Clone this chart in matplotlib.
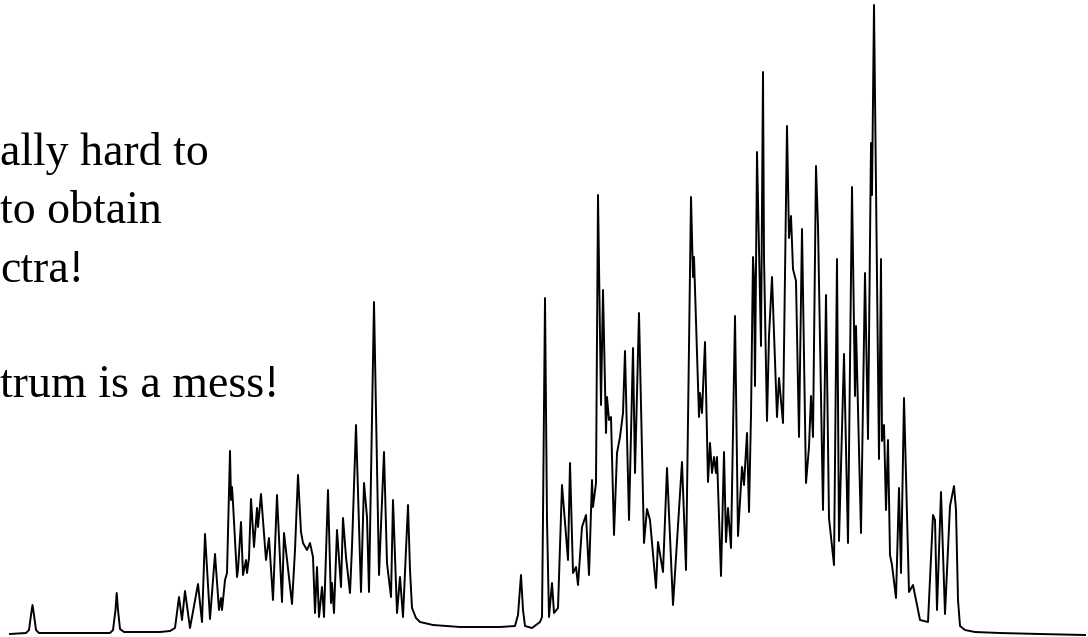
import matplotlib.pyplot as plt

plt.rcParams['font.family'] = ['Liberation Serif', 'DejaVu Serif']

# spectrum trace: channel vs intensity (peak tops and valleys)
channel = [
    10, 26, 29, 31, 32.5, 34, 36, 39, 110, 113, 115.5, 116.7, 118, 120, 124, 160, 170, 175,
    179, 182, 185, 190, 198, 202, 205, 210, 215, 219, 221, 222, 225, 227, 230, 231, 232, 233,
    237, 238, 241, 243, 246, 247, 249, 251, 254, 257, 258, 261, 266, 269, 273, 277, 282, 284,
    292, 295, 298, 301, 303, 307, 310, 313,
    315, 317, 319, 322, 324, 328, 331, 332, 334, 337, 341, 343, 346, 350, 352, 356, 361, 364,
    367, 369, 374, 379, 384, 387, 391, 393, 397, 400, 403, 408, 410, 412, 416, 420, 433, 460,
    500, 515, 518, 521, 523, 525, 532, 540, 542, 543, 545, 547, 549, 552, 554, 558, 562, 568,
    570, 573, 576, 578, 582, 586, 589, 592, 593, 596, 598, 601, 603, 606, 607, 609, 611, 614,
    617, 620, 623, 625, 629, 633, 635, 639, 644, 647, 650, 656, 658, 663, 667, 673, 682, 686,
    691, 693, 694, 699, 700, 702, 705, 708, 710, 712, 714, 716, 717, 721, 724, 726, 728, 731,
    735, 738, 742, 744, 747, 749, 751, 753, 754, 755, 757, 761, 763, 764, 767, 769, 772, 777,
    779, 783, 787, 789, 791, 793, 796, 799, 802, 806, 809, 811, 813, 816, 818, 823, 826, 829,
    834, 837, 839, 844, 848, 852, 855, 856, 861, 865, 868, 871, 872, 874, 879, 881, 882, 884,
    886, 888, 890, 892, 896, 899, 901, 904, 909, 913, 920, 928, 933, 935, 937, 941, 945, 950,
    954, 956, 958, 960, 965, 975, 1000, 1040, 1085,
]
position = [
    634, 633, 630, 615, 605, 615, 630, 633, 633, 630, 610, 593, 610, 629, 632, 632, 631, 628,
    597, 620, 591, 628, 584, 622, 534, 619, 554, 610, 598, 610, 580, 573, 451, 500, 487, 503,
    577, 570, 522, 575, 560, 573, 558, 499, 547, 508, 527, 494, 560, 538, 600, 495, 602, 533,
    604, 550, 475, 532, 543, 550, 543, 557,
    613, 567, 617, 587, 617, 490, 603, 583, 613, 530, 587, 518, 557, 593, 547, 425, 592, 483,
    517, 592, 302, 575, 452, 563, 597, 500, 613, 577, 617, 505, 570, 608, 618, 622, 625, 627,
    627, 626, 615, 575, 610, 626, 628, 622, 617, 517, 298, 520, 617, 583, 613, 608, 485, 560,
    463, 573, 567, 585, 527, 515, 575, 480, 507, 483, 195, 405, 290, 433, 397, 420, 417, 535,
    453, 437, 413, 351, 520, 348, 473, 313, 543, 509, 520, 588, 542, 572, 468, 605, 462, 570,
    197, 277, 257, 417, 393, 413, 342, 482, 443, 473, 457, 473, 457, 576, 452, 542, 508, 548,
    316, 536, 467, 485, 433, 512, 415, 257, 277, 386, 152, 346, 72, 257, 421, 336, 277, 417,
    378, 423, 126, 238, 216, 269, 281, 437, 229, 483, 447, 396, 437, 166, 226, 510, 295, 518,
    565, 259, 541, 354, 543, 187, 396, 326, 533, 273, 439, 143, 195, 5, 459, 259, 441, 425,
    510, 440, 555, 565, 598, 488, 573, 398, 592, 585, 620, 622, 515, 520, 610, 492, 614, 506,
    486, 510, 600, 626, 630, 632, 633, 634, 635,
]
# intensity above the baseline
intensity = [634 - p for p in position]

text_lines = ['ally hard to', 'to obtain', 'ctra!', 'trum is a mess!']
text_baselines = [165, 223, 282, 397]

fig = plt.figure(figsize=(10.88, 6.37), dpi=100)
ax = fig.add_axes([0, 0, 1, 1])
ax.plot(channel, intensity, color='black', lw=1.4, solid_joinstyle='round')
ax.set_xlim(0, 1088)
ax.set_ylim(-3, 634)
ax.axis('off')

for line, base in zip(text_lines, text_baselines):
    fig.text(0.0, 1 - base / 637, line, fontsize=33, color='black',
             ha='left', va='baseline')

fig.savefig('out.png', dpi=100, facecolor='white')
